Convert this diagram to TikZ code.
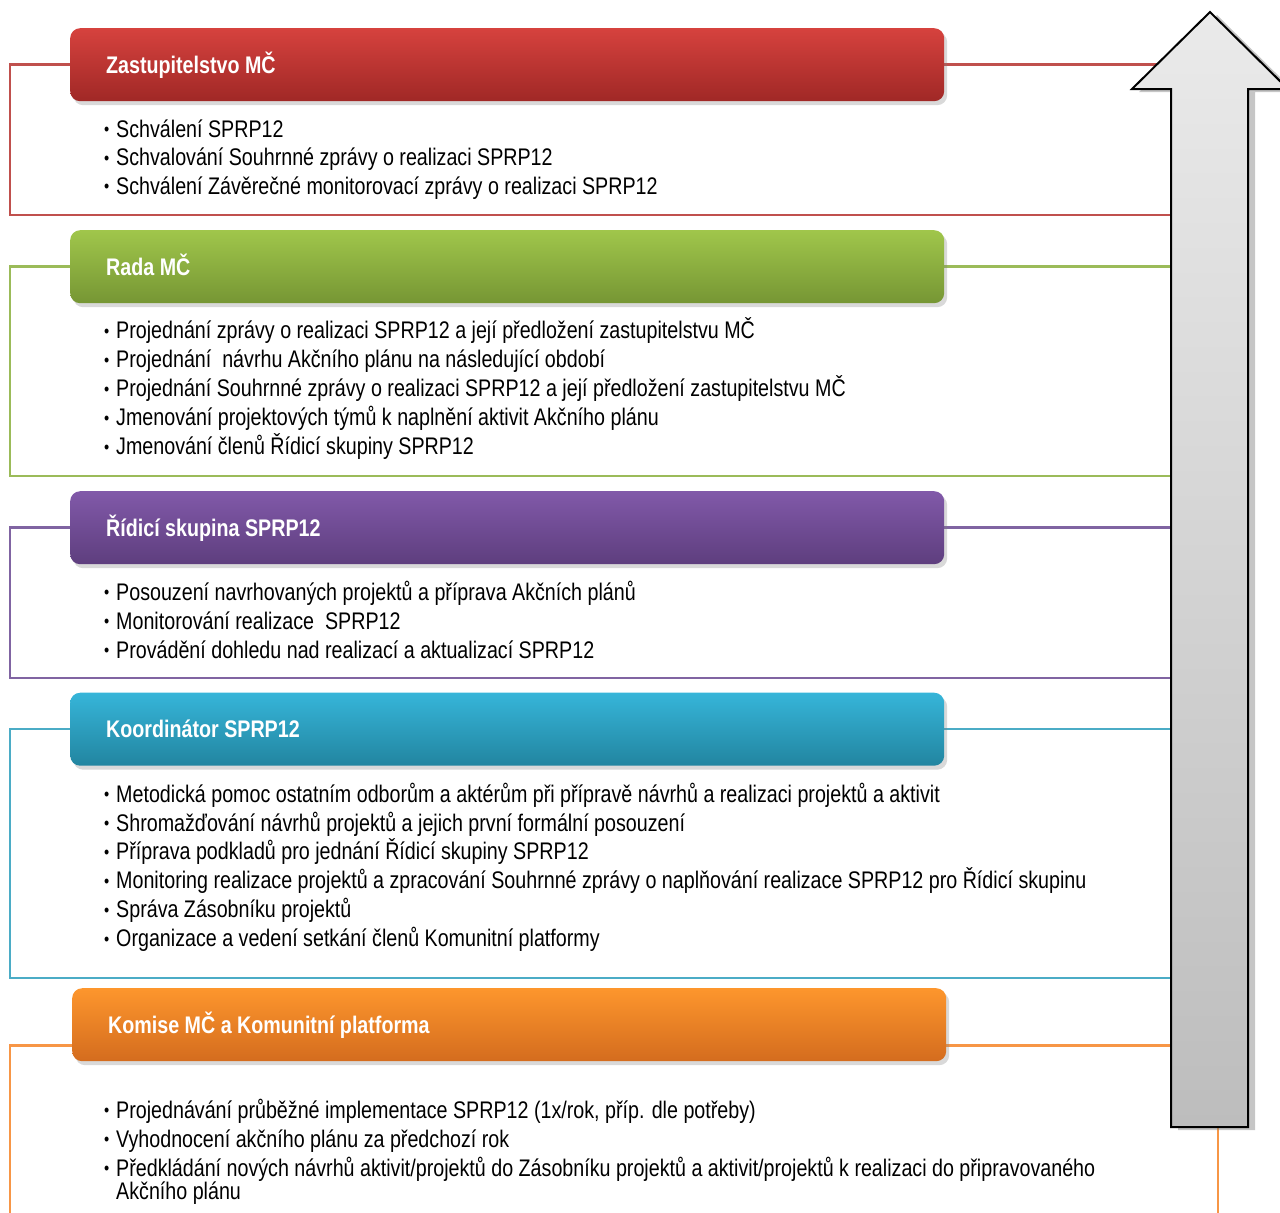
\documentclass[tikz,border=0pt]{standalone}
\usepackage{fontspec}
\setmainfont{Liberation Sans}[FakeStretch=0.82]
\usetikzlibrary{shadows}
\definecolor{fRed}{HTML}{C0504D}
\definecolor{fGreen}{HTML}{9BBB59}
\definecolor{fPurple}{HTML}{8064A2}
\definecolor{fBlue}{HTML}{4BACC6}
\definecolor{fOrange}{HTML}{F79646}
\definecolor{hRedT}{HTML}{D6423E}\definecolor{hRedB}{HTML}{A02826}
\definecolor{hGreenT}{HTML}{A0C64B}\definecolor{hGreenB}{HTML}{769634}
\definecolor{hPurpleT}{HTML}{8159A9}\definecolor{hPurpleB}{HTML}{5E3E7E}
\definecolor{hBlueT}{HTML}{36B5D9}\definecolor{hBlueB}{HTML}{2285A0}
\definecolor{hOrangeT}{HTML}{FD962D}\definecolor{hOrangeB}{HTML}{D46C1E}
\definecolor{arT}{HTML}{EAEAEA}\definecolor{arB}{HTML}{BDBDBD}
\newcommand\bul{\makebox[12pt][l]{\raisebox{1.5pt}{\fontsize{18}{18}\selectfont\textbullet}}}
\tikzset{
  frame/.style={line width=2.2pt},
  hdr/.style={anchor=north west, rounded corners=10pt, minimum width=874pt, minimum height=73pt,
    inner sep=0pt, drop shadow={opacity=0.3, shadow xshift=3pt, shadow yshift=-4pt}},
  htext/.style={anchor=base west, inner sep=0pt, text=white, font=\bfseries\fontsize{24}{24}\selectfont},
  item/.style={anchor=base west, inner sep=0pt, font=\fontsize{24}{24}\selectfont},
  bigarrow/.style={draw=black, line width=2pt, top color=arT, bottom color=arB,
    drop shadow={opacity=0.45, shadow xshift=7pt, shadow yshift=-3pt}}
}
\begin{document}
\begin{tikzpicture}[x=1pt,y=-1pt]
\useasboundingbox (0,0) rectangle (1280,1213);
\clip (0,0) rectangle (1280,1213);
% frames
\draw[frame, fRed] (10,64.5) rectangle (1218,215);
\draw[frame, fGreen] (10,266.5) rectangle (1218,476);
\draw[frame, fPurple] (10,527.5) rectangle (1218,678);
\draw[frame, fBlue] (10,729) rectangle (1218,978);
\draw[frame, fOrange] (10,1300) -- (10,1045.5) -- (1218,1045.5) -- (1218,1300);
% headers
\node[hdr, top color=hRedT, bottom color=hRedB] (h1) at (70,28) {};
\node[hdr, top color=hGreenT, bottom color=hGreenB] (h2) at (70,230) {};
\node[hdr, top color=hPurpleT, bottom color=hPurpleB] (h3) at (70,491) {};
\node[hdr, top color=hBlueT, bottom color=hBlueB] (h4) at (70,692.5) {};
\node[hdr, top color=hOrangeT, bottom color=hOrangeB] (h5) at (72,988) {};
\node[htext] (t1) at (106,73) {Zastupitelstvo MČ};
\node[htext] (t2) at (106,275) {Rada MČ};
\node[htext] (t3) at (106,536) {Řídicí skupina SPRP12};
\node[htext] (t4) at (106,737.5) {Koordinátor SPRP12};
\node[htext] (t5) at (108,1033) {Komise MČ a Komunitní platforma};
% red items
\node[item] (r1) at (104,137) {\bul Schválení SPRP12};
\node[item] (r2) at (104,165.5) {\bul Schvalování Souhrnné zprávy o realizaci SPRP12};
\node[item] (r3) at (104,194) {\bul Schválení Závěrečné monitorovací zprávy o realizaci SPRP12};
% green items
\node[item] (g1) at (104,338.5) {\bul Projednání zprávy o realizaci SPRP12 a její předložení zastupitelstvu MČ};
\node[item] (g2) at (104,367.5) {\bul Projednání\ \ návrhu Akčního plánu na následující období};
\node[item] (g3) at (104,396.5) {\bul Projednání Souhrnné zprávy o realizaci SPRP12 a její předložení zastupitelstvu MČ};
\node[item] (g4) at (104,425.5) {\bul Jmenování projektových týmů k naplnění aktivit Akčního plánu};
\node[item] (g5) at (104,454.5) {\bul Jmenování členů Řídicí skupiny SPRP12};
% purple items
\node[item] (p1) at (104,600) {\bul Posouzení navrhovaných projektů a příprava Akčních plánů};
\node[item] (p2) at (104,629) {\bul Monitorování realizace\ \ SPRP12};
\node[item] (p3) at (104,658) {\bul Provádění dohledu nad realizací a aktualizací SPRP12};
% blue items
\node[item] (b1) at (104,802) {\bul Metodická pomoc ostatním odborům a aktérům při přípravě návrhů a realizaci projektů a aktivit};
\node[item] (b2) at (104,831) {\bul Shromažďování návrhů projektů a jejich první formální posouzení};
\node[item] (b3) at (104,859.5) {\bul Příprava podkladů pro jednání Řídicí skupiny SPRP12};
\node[item] (b4) at (104,888.5) {\bul Monitoring realizace projektů a zpracování Souhrnné zprávy o naplňování realizace SPRP12 pro Řídicí skupinu};
\node[item] (b5) at (104,917.5) {\bul Správa Zásobníku projektů};
\node[item] (b6) at (104,946.5) {\bul Organizace a vedení setkání členů Komunitní platformy};
% orange items
\node[item] (o1) at (104,1118) {\bul Projednávání průběžné implementace SPRP12 (1x/rok, příp. dle potřeby)};
\node[item] (o2) at (104,1147) {\bul Vyhodnocení akčního plánu za předchozí rok};
\node[item] (o3) at (104,1176) {\bul Předkládání nových návrhů aktivit/projektů do Zásobníku projektů a aktivit/projektů k realizaci do připravovaného};
\node[item] (o4) at (116,1199.5) {Akčního plánu};
% arrow
\draw[bigarrow] (1210,12) -- (1288,89) -- (1248,89) -- (1248,1127) -- (1171,1127) -- (1171,89) -- (1132,89) -- cycle;
\end{tikzpicture}
\end{document}
